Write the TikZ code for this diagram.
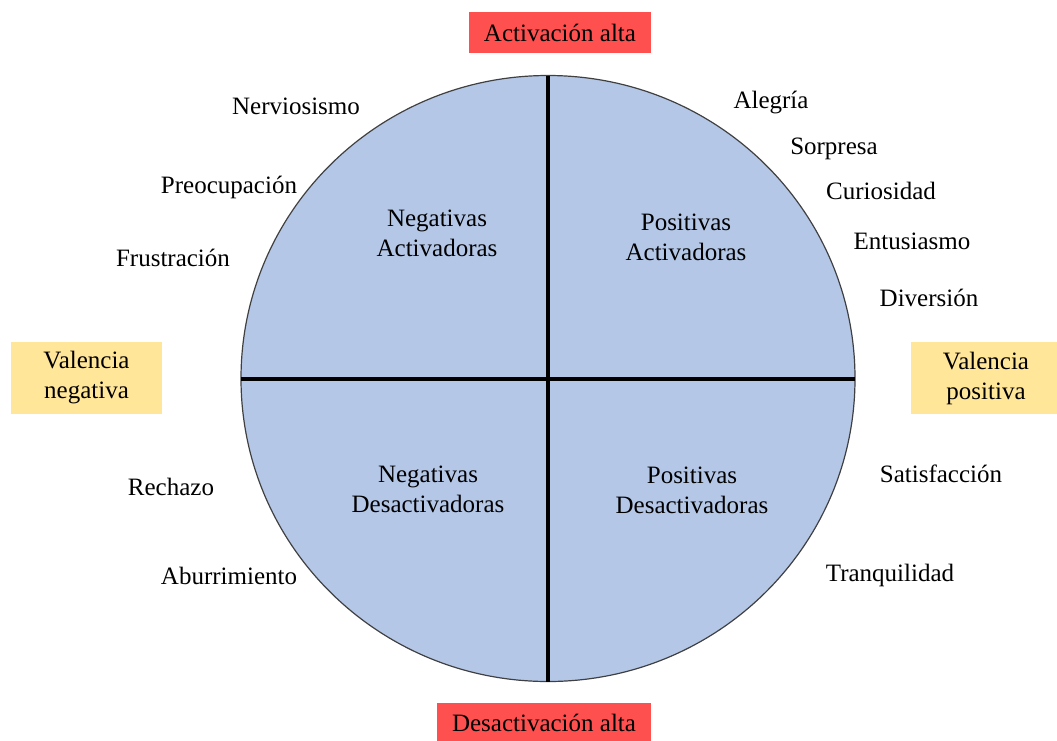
\documentclass[tikz,border=0pt]{standalone}
\usepackage{fontspec}
\setmainfont{Liberation Serif}
\definecolor{quadfill}{HTML}{B4C7E7}
\definecolor{redbox}{HTML}{FF5050}
\definecolor{yellowbox}{HTML}{FFE699}
\definecolor{rimgray}{HTML}{404040}
\begin{document}
\begin{tikzpicture}[x=1pt,y=-1pt,
  every node/.style={font=\fontsize{25}{30}\selectfont, text=black, inner sep=0pt},
  emo/.style={anchor=center},
  quad/.style={align=center},
  axisbox/.style={fill=redbox, minimum width=182pt, minimum height=41pt},
  valbox/.style={fill=yellowbox, align=center, minimum height=72pt},
  divider/.style={line width=3.6pt, black}]
\useasboundingbox (0,0) rectangle (1057,740);
\clip (0,0) rectangle (1057,740);
% circle
\fill[quadfill, draw=rimgray, line width=1.2pt] (548,378.5) ellipse [x radius=307, y radius=303];
\coordinate (top) at (548,75.5);
\coordinate (bot) at (548,681.5);
\coordinate (lft) at (241,379);
\coordinate (rgt) at (855,379);
\draw[divider] (top) -- (bot);
\draw[divider] (lft) -- (rgt);
% axis boxes
\node[axisbox] (act) at (560,32.5) {Activación alta};
\node[fill=redbox, minimum width=214pt, minimum height=44pt] (deact) at (544,725) {};
\node (deacttxt) at (544,723) {Desactivación alta};
\node[valbox, minimum width=151pt] (vneg) at (86.5,378) {Valencia\\negativa};
\node[fill=yellowbox, minimum width=150pt, minimum height=72pt] (vposbg) at (986,378) {};
\node[align=center] (vpos) at (986,378) {Valencia\\positiva};
% quadrant labels
\node[quad] (na) at (437,233) {Negativas\\Activadoras};
\node[quad] (pa) at (686,237) {Positivas\\Activadoras};
\node[quad] (nd) at (428,489) {Negativas\\Desactivadoras};
\node[quad] (pd) at (692,490) {Positivas\\Desactivadoras};
% emotions
\node[emo] (e1) at (296,106) {Nerviosismo};
\node[emo] (e2) at (229,187) {Preocupación};
\node[emo] (e3) at (173,258) {Frustración};
\node[emo] (e4) at (171,487) {Rechazo};
\node[emo] (e5) at (229,576) {Aburrimiento};
\node[emo] (e6) at (771,102) {Alegría};
\node[emo] (e7) at (834,149) {Sorpresa};
\node[emo] (e8) at (881,191) {Curiosidad};
\node[emo] (e9) at (912,241) {Entusiasmo};
\node[emo] (e10) at (929,298) {Diversión};
\node[emo] (e11) at (941,474) {Satisfacción};
\node[emo] (e12) at (890,575) {Tranquilidad};
\end{tikzpicture}
\end{document}
